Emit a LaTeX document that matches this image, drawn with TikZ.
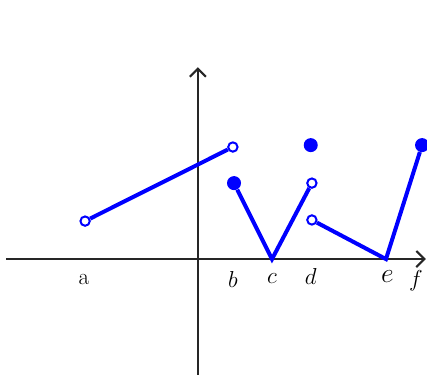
\documentclass[tikz,border=0pt]{standalone}
\usetikzlibrary{arrows.meta}
\tikzset{
	openpt/.style={circle, draw=blue, fill=white, line width=1.5pt, inner sep=0pt, minimum size=7pt},
	closedpt/.style={circle, fill=blue, inner sep=0pt, minimum size=10.5pt},
	graphline/.style={blue, line width=3pt},
	axisline/.style={line width=1.6pt, black!85, -{Straight Barb[length=6pt,width=12pt,line width=1.6pt]}},
	ticklabel/.style={font=\LARGE, inner sep=0pt}
}
\begin{document}
\begin{tikzpicture}[x=1cm, y=1cm]
	\useasboundingbox (-5.21,-3.05) rectangle (6.03,6.82);
	% Trục tọa độ
	\coordinate (xL) at (-5.05,0);
	\coordinate (xR) at (6.0,0);
	\coordinate (yB) at (0,-3.05);
	\coordinate (yT) at (0,5.05);
	\draw[axisline] (xL) -- (xR);
	\draw[axisline] (yB) -- (yT);
	% Nhãn trên trục hoành
	\node[ticklabel] (la) at (-3.0,-0.55) {a};
	\node[ticklabel] (lb) at (0.92,-0.55) {$b$};
	\node[ticklabel] (lc) at (1.95,-0.5) {$c$};
	\node[ticklabel] (ld) at (2.97,-0.47) {$d$};
	\node[ticklabel, font=\huge] (le) at (4.99,-0.47) {$e$};
	\node[ticklabel] (lf) at (5.74,-0.58) {$f$};
	% Các điểm của đồ thị
	\node[openpt] (pa) at (-2.97,1.0) {};
	\node[openpt] (pb) at (0.92,2.95) {};
	\node[closedpt] (qb) at (0.95,2.0) {};
	\coordinate (qc) at (1.95,0);
	\node[openpt] (pd) at (3.0,2.0) {};
	\node[closedpt] (qd) at (2.97,3.0) {};
	\node[openpt] (rd) at (3.0,1.03) {};
	\coordinate (qe) at (4.95,0);
	\node[closedpt] (qf) at (5.9,3.0) {};
	% Các đoạn thẳng
	\draw[graphline] (pa) -- (pb);
	\draw[graphline] (qb) -- (qc) -- (pd);
	\draw[graphline] (rd) -- (qe) -- (qf);
\end{tikzpicture}
\end{document}
